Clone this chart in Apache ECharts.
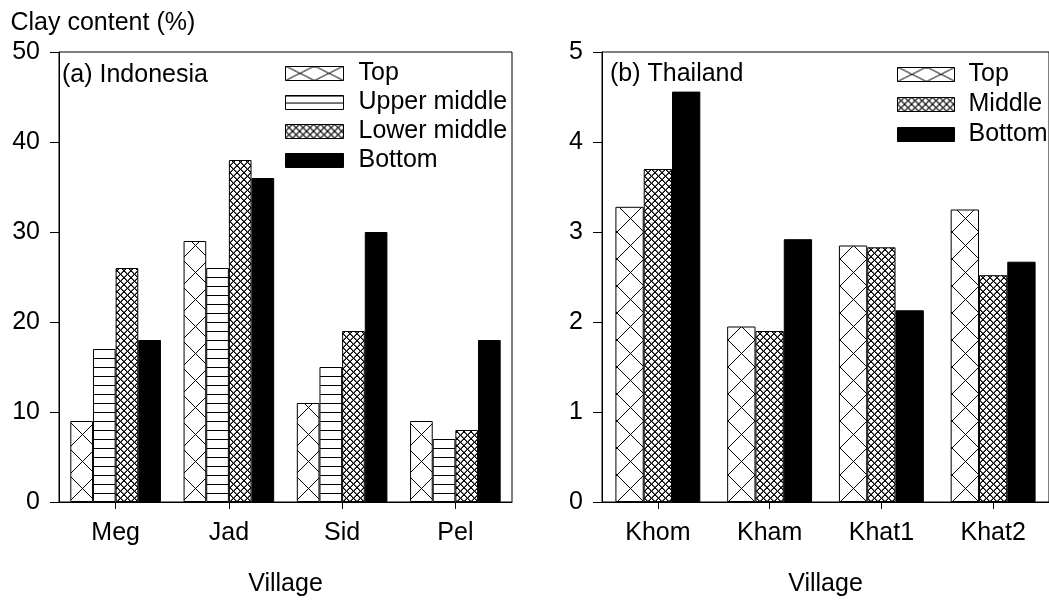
<!DOCTYPE html>
<html><head><meta charset="utf-8">
<script src="https://cdn.jsdelivr.net/npm/echarts@6/dist/echarts.min.js"></script>
<style>html,body{margin:0;padding:0;background:#fff}#c{width:1049px;height:602px}</style>
</head><body><div id="c"></div>
<script>
// ---------- data ----------
const villagesA = ['Meg', 'Jad', 'Sid', 'Pel'];
const topA = [9, 29, 11, 9];
const upperMiddleA = [17, 26, 15, 7];
const lowerMiddleA = [26, 38, 19, 8];
const bottomA = [18, 36, 30, 18];
const namesA = ['Top', 'Upper middle', 'Lower middle', 'Bottom'];

const villagesB = ['Khom', 'Kham', 'Khat1', 'Khat2'];
const topB = [3.28, 1.95, 2.85, 3.25];
const middleB = [3.70, 1.90, 2.83, 2.52];
const bottomB = [4.56, 2.92, 2.13, 2.67];
const namesB = ['Top', 'Middle', 'Bottom'];

const yAxisTitle = 'Clay content (%)';
const xAxisTitle = 'Village';
const panelA = '(a) Indonesia';
const panelB = '(b) Thailand';

// ---------- patterns ----------
const FONT = '"Liberation Sans", Arial, sans-serif';
const FS = 25;
function tile(w, h, draw) {
  const c = document.createElement('canvas');
  c.width = w; c.height = h;
  const ctx = c.getContext('2d');
  ctx.fillStyle = '#fff'; ctx.fillRect(0, 0, w, h);
  ctx.fillStyle = '#000';
  draw(ctx, w, h);
  return c;
}
// crisp pixel diagonals (X pattern)
function xPix(c, w, h) {
  const n = Math.max(w, h);
  for (let i = 0; i < n; i++) {
    const px = Math.floor(i * w / n), py = Math.floor(i * h / n);
    c.fillRect(px, py, 1, 1);
    c.fillRect(w - 1 - px, py, 1, 1);
  }
}
// bolder diagonals for the dense cross-hatch
function xPixBold(c, w, h) {
  c.fillStyle = '#666';
  for (let i = 0; i < w; i++) {
    c.fillRect((i + 1) % w, i, 1, 1);
    c.fillRect((w - 1 - i + w - 1) % w, i, 1, 1);
  }
  c.fillStyle = '#000';
  for (let i = 0; i < w; i++) {
    c.fillRect(i, i, 1, 1);
    c.fillRect(w - 1 - i, i, 1, 1);
  }
}
const bigX = tile(27, 27, xPix);
const fineX = tile(7, 7, xPixBold);
const hLines = tile(4, 9, (c, w) => c.fillRect(0, 0, w, 1));
const legBigX = tile(29, 14, xPix);
const legHLines = tile(4, 7, (c, w) => c.fillRect(0, 0, w, 1));

function pat(img, x, y) { return { image: img, repeat: 'repeat', x: x || 0, y: y || 0 }; }

const specA = [
  { name: namesA[0], data: topA, img: bigX, leg: legBigX },
  { name: namesA[1], data: upperMiddleA, img: hLines, leg: legHLines },
  { name: namesA[2], data: lowerMiddleA, img: fineX, leg: fineX },
  { name: namesA[3], data: bottomA, img: null, leg: null }
];
const specB = [
  { name: namesB[0], data: topB, img: bigX, leg: legBigX },
  { name: namesB[1], data: middleB, img: fineX, leg: fineX },
  { name: namesB[2], data: bottomB, img: null, leg: null }
];

function makeSeries(spec, idx, gap) {
  return spec.map(s => ({
    type: 'bar', name: s.name, data: s.data.slice(),
    xAxisIndex: idx, yAxisIndex: idx,
    barGap: '0%', barCategoryGap: gap,
    animation: false,
    itemStyle: { color: s.img ? pat(s.img) : '#000', borderColor: '#000', borderWidth: 1 },
    emphasis: { disabled: true }
  }));
}
function legendData(spec) {
  return spec.map(s => ({
    name: s.name, icon: 'rect',
    itemStyle: { color: s.leg ? pat(s.leg) : '#000', borderColor: '#000', borderWidth: 1 }
  }));
}

const txt = { color: '#000', fontFamily: FONT, fontSize: FS };
function yAxis(idx, max, interval) {
  return {
    type: 'value', gridIndex: idx, min: 0, max: max, interval: interval,
    axisLine: { show: true, lineStyle: { color: '#000', width: 1 } },
    axisTick: { show: true, length: 9, lineStyle: { color: '#000' } },
    axisLabel: Object.assign({ margin: 19 }, txt),
    splitLine: { show: false }
  };
}
function xAxis(idx, cats) {
  return {
    type: 'category', gridIndex: idx, data: cats,
    axisLine: { show: true, lineStyle: { color: '#000', width: 1 } },
    axisTick: { show: true, alignWithLabel: true, length: 7, lineStyle: { color: '#000' } },
    axisLabel: Object.assign({ margin: 19 }, txt),
    name: xAxisTitle, nameLocation: 'middle', nameGap: 70,
    nameTextStyle: Object.assign({}, txt)
  };
}
function label(text, x, y) {
  return { type: 'text', x: x, y: y, silent: true,
    style: { text: text, fill: '#000', font: FS + 'px ' + FONT, verticalAlign: 'middle', align: 'left' } };
}

const chart = echarts.init(document.getElementById('c'), null, { renderer: 'canvas' });
const seriesA = makeSeries(specA, 0, '20%');
const seriesB = makeSeries(specB, 1, '24%');
const option = {
  animation: false,
  backgroundColor: '#fff',
  textStyle: { fontFamily: FONT, color: '#000' },
  grid: [
    { left: 59, top: 52, width: 453, height: 453, show: true, borderColor: '#000', borderWidth: 1, backgroundColor: 'transparent', containLabel: false },
    { left: 602, top: 52, right: 0, height: 453, show: true, borderColor: '#000', borderWidth: 1, backgroundColor: 'transparent', containLabel: false }
  ],
  xAxis: [xAxis(0, villagesA), xAxis(1, villagesB)],
  yAxis: [yAxis(0, 50, 10), yAxis(1, 5, 1)],
  legend: [
    { orient: 'vertical', left: 285, top: 61, padding: 0, itemWidth: 58, itemHeight: 14, itemGap: 4,
      selectedMode: false, data: legendData(specA),
      textStyle: Object.assign({ padding: [0, 0, 0, 10] }, txt) },
    { orient: 'vertical', left: 897, top: 62, padding: 0, itemWidth: 57, itemHeight: 14, itemGap: 5,
      selectedMode: false, data: legendData(specB),
      textStyle: Object.assign({ padding: [0, 0, 0, 9] }, txt) }
  ],
  graphic: [
    label(yAxisTitle, 10.5, 23.5),
    label(panelA, 62, 75),
    label(panelB, 610, 74)
  ],
  series: seriesA.concat(seriesB)
};
chart.setOption(option);

// align each bar's hatch to the bar itself (using the library's own layout)
try {
  const allSpec = specA.concat(specB);
  const model = chart.getModel();
  const upd = allSpec.map((s, i) => {
    if (!s.img) return {};
    const data = model.getSeriesByIndex(i).getData();
    return {
      data: s.data.map((v, j) => {
        const l = data.getItemLayout(j);
        const bottom = Math.round(Math.max(l.y, l.y + l.height));
        const cx = Math.round(l.x + l.width / 2 - (s.img.width % 2 ? s.img.width / 2 - 0.5 : 0));
        return { value: v, itemStyle: { color: pat(s.img, cx, bottom) } };
      })
    };
  });
  chart.setOption({ series: upd });
} catch (e) { console.log(e); }
</script>
</body></html>
